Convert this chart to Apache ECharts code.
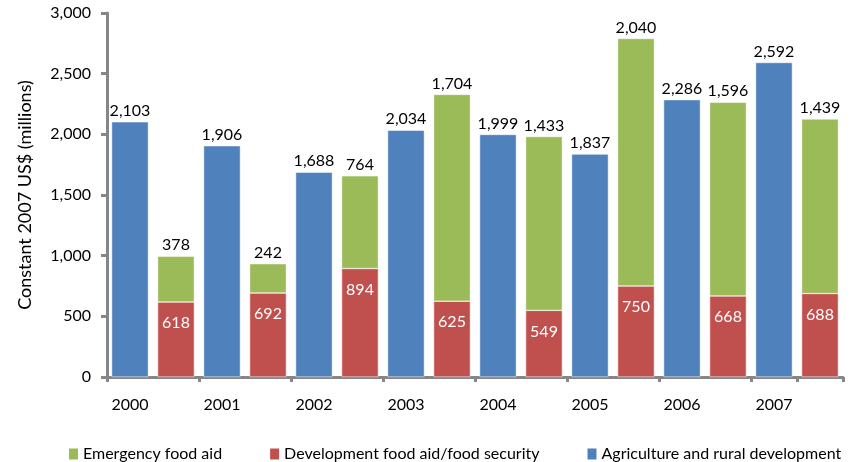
<!DOCTYPE html>
<html>
<head>
<meta charset="utf-8">
<script src="https://cdn.jsdelivr.net/npm/echarts@6/dist/echarts.min.js"></script>
<style>
html,body{margin:0;padding:0;background:#fff;}
#c{width:852px;height:462px;}
</style>
</head>
<body>
<div id="c"></div>
<script>
var categories = ["2000","","2001","","2002","","2003","","2004","","2005","","2006","","2007",""];
var agriculture = [2103,null,1906,null,1688,null,2034,null,1999,null,1837,null,2286,null,2592,null];
var development = [null,618,null,692,null,894,null,625,null,549,null,750,null,668,null,688];
var emergency = [null,378,null,242,null,764,null,1704,null,1433,null,2040,null,1596,null,1439];
var yTicks = [0,500,1000,1500,2000,2500,3000];

var FONT = 'Lato, "Noto Sans", sans-serif';
var FS = 16;
function fmt(v){ return Number(v).toLocaleString('en-US'); }

var chart = echarts.init(document.getElementById('c'), null, {renderer:'canvas'});
var axisColor = '#868686';
chart.setOption({
  animation:false,
  textStyle:{fontFamily:FONT},
  grid:{left:107,right:9,top:13,bottom:85,containLabel:false},
  legend:{
    left:62, top:441, itemWidth:11, itemHeight:13, itemGap:46,
    icon:'rect',
    textStyle:{fontFamily:FONT,fontSize:FS,color:'#000',padding:[0,0,0,-1]},
    data:['Emergency food aid','Development food aid/food security','Agriculture and rural development']
  },
  xAxis:{
    type:'category', data:categories,
    axisLine:{lineStyle:{color:axisColor,width:3}},
    axisTick:{show:true,interval:1,length:5,lineStyle:{color:axisColor,width:3}},
    axisLabel:{interval:0,margin:20,fontFamily:FONT,fontSize:FS,color:'#000'},
    splitLine:{show:false}
  },
  yAxis:{
    type:'value', min:yTicks[0], max:yTicks[yTicks.length-1], interval:500,
    name:'Constant 2007 US$ (millions)', nameLocation:'middle', nameGap:73,
    nameTextStyle:{fontFamily:FONT,fontSize:18,color:'#000'},
    axisLine:{show:true,lineStyle:{color:axisColor,width:3}},
    axisTick:{show:true,length:6,lineStyle:{color:axisColor,width:3}},
    axisLabel:{margin:16,fontFamily:FONT,fontSize:FS,color:'#000',formatter:function(v){return fmt(v);}},
    splitLine:{show:false}
  },
  series:[
    {name:'Agriculture and rural development',type:'bar',stack:'a',data:agriculture,
     barCategoryGap:'20%',
     itemStyle:{color:'#4F81BD',borderColor:'#fff',borderWidth:0.5},
     label:{show:true,position:'top',distance:3,fontFamily:FONT,fontSize:FS,color:'#000',formatter:function(p){return fmt(p.value);}}},
    {name:'Development food aid/food security',type:'bar',stack:'a',data:development,
     itemStyle:{color:'#C0504D',borderColor:'#fff',borderWidth:0.5},
     label:{show:true,position:'insideTop',distance:13,fontFamily:FONT,fontSize:FS,color:'#fff',formatter:function(p){return fmt(p.value);}}},
    {name:'Emergency food aid',type:'bar',stack:'a',data:emergency,
     itemStyle:{color:'#9BBB59',borderColor:'#fff',borderWidth:0.5},
     label:{show:true,position:'top',distance:3,fontFamily:FONT,fontSize:FS,color:'#000',formatter:function(p){return fmt(p.value);}}}
  ]
});
</script>
</body>
</html>
